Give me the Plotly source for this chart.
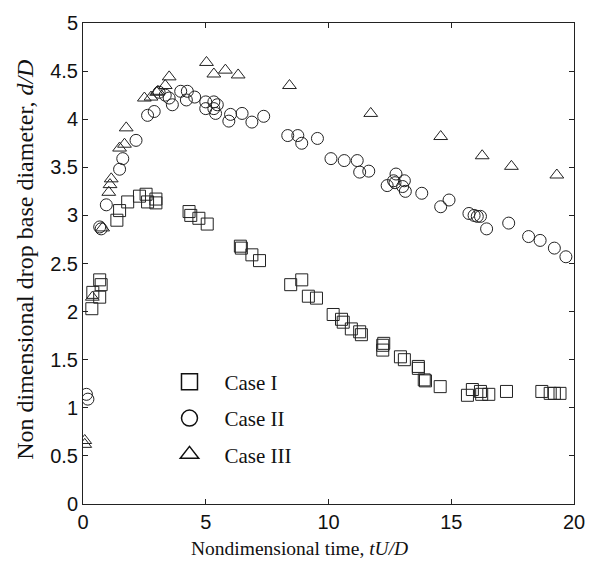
import plotly.graph_objects as go

# Case I (squares)
case1_x = [0.36, 0.40, 0.68, 0.68, 0.74, 1.38, 1.49, 1.82, 2.30, 2.57, 2.63, 2.97, 2.97,
           4.32, 4.39, 4.72, 5.06, 6.41, 6.45, 6.88, 7.19, 8.46, 8.91, 9.18, 9.51,
           10.19, 10.53, 10.60, 10.93, 11.27, 11.34, 12.21, 12.25, 12.21, 12.93, 13.09,
           13.66, 13.66, 13.90, 13.95, 14.55, 15.66, 15.86, 16.19, 16.24, 16.53, 17.25,
           18.69, 19.03, 19.20, 19.43]
case1_y = [2.03, 2.20, 2.15, 2.33, 2.28, 2.95, 3.05, 3.14, 3.20, 3.22, 3.14, 3.17, 3.13,
           3.04, 3.00, 2.97, 2.91, 2.68, 2.66, 2.59, 2.53, 2.28, 2.33, 2.16, 2.14,
           1.97, 1.92, 1.89, 1.82, 1.79, 1.76, 1.65, 1.67, 1.60, 1.53, 1.50,
           1.43, 1.41, 1.29, 1.28, 1.22, 1.13, 1.19, 1.17, 1.14, 1.14, 1.17,
           1.17, 1.15, 1.15, 1.15]

# Case II (circles)
case2_x = [0.14, 0.20, 0.68, 0.74, 0.95, 1.49, 1.62, 2.16, 2.63, 2.90, 3.10, 3.35, 3.51,
           3.64, 3.98, 4.25, 4.21, 4.55, 5.00, 5.00, 5.33, 5.33, 5.47, 5.40, 6.01, 5.94,
           6.48, 6.88, 7.36, 8.34, 8.75, 8.91, 9.55, 10.10, 10.64, 11.17, 11.27, 11.64,
           12.39, 12.65, 12.71, 12.75, 13.09, 13.02, 13.13, 13.80, 14.57, 14.91, 15.72,
           15.93, 16.06, 16.19, 16.44, 17.34, 18.15, 18.62, 19.20, 19.67]
case2_y = [1.14, 1.09, 2.88, 2.86, 3.11, 3.48, 3.59, 3.78, 4.04, 4.08, 4.28, 4.25, 4.22,
           4.15, 4.29, 4.29, 4.20, 4.23, 4.18, 4.11, 4.18, 4.11, 4.15, 4.06, 4.05, 3.98,
           4.06, 3.97, 4.03, 3.83, 3.83, 3.75, 3.80, 3.59, 3.57, 3.57, 3.45, 3.46,
           3.31, 3.36, 3.34, 3.43, 3.36, 3.30, 3.25, 3.23, 3.09, 3.16, 3.02,
           3.00, 2.99, 2.99, 2.86, 2.92, 2.78, 2.74, 2.66, 2.57]

# Case III (triangles)
case3_x = [0.07, 0.07, 0.38, 0.80, 1.05, 1.10, 1.15, 1.49, 1.69, 1.76, 2.50, 2.77, 3.00,
           3.05, 3.35, 3.51, 5.03, 5.33, 5.80, 6.32, 8.41, 11.72, 14.57, 16.26, 17.45, 19.30]
case3_y = [0.66, 0.62, 2.15, 2.87, 3.24, 3.32, 3.38, 3.70, 3.74, 3.91, 4.22, 4.23, 4.28,
           4.29, 4.35, 4.44, 4.59, 4.47, 4.51, 4.46, 4.35, 4.06, 3.82, 3.62, 3.51, 3.42]

x_ticks = [0, 5, 10, 15, 20]
y_ticks = [0, 0.5, 1, 1.5, 2, 2.5, 3, 3.5, 4, 4.5, 5]

x_title = "Nondimensional time, <i>tU/D</i>"
y_title = "Non dimensional drop base diameter, <i>d/D</i>"

series = [
    ("Case I", case1_x, case1_y, "square-open"),
    ("Case II", case2_x, case2_y, "circle-open"),
    ("Case III", case3_x, case3_y, "triangle-up-open"),
]

mcol = "#222222"
fig = go.Figure()
for name, xs, ys, sym in series:
    fig.add_trace(go.Scatter(
        x=xs, y=ys, mode="markers", name=name, showlegend=False,
        marker=dict(symbol=sym, size=12, color=mcol, line=dict(width=1, color=mcol)),
    ))
# legend-only entries (larger symbols, as in the original legend box)
for name, xs, ys, sym in series:
    fig.add_trace(go.Scatter(
        x=[None], y=[None], mode="markers", name=name, legendgroup=name,
        marker=dict(symbol=sym, size=16, color="#111111", line=dict(width=1.5, color="#111111")),
    ))

serif = "Liberation Serif, Times New Roman, serif"
sans = "Liberation Sans, Arial, sans-serif"

axis_common = dict(
    showline=True, linecolor="#222222", linewidth=1, mirror="ticks",
    ticks="inside", ticklen=5, tickcolor="#222222", showgrid=False, zeroline=False,
    tickfont=dict(family=sans, size=20, color="#111111"),
)

fig.update_layout(
    width=597, height=563,
    margin=dict(l=83, r=20, t=16, b=59),
    paper_bgcolor="white", plot_bgcolor="white",
    showlegend=True,
    legend=dict(
        x=0.1456, y=0.296, xanchor="left", yanchor="top",
        bgcolor="rgba(0,0,0,0)", borderwidth=0,
        font=dict(family=serif, size=21, color="#111111"),
        tracegroupgap=6, itemsizing="trace", itemwidth=60,
    ),
    xaxis=dict(range=[0, 20], tickvals=x_ticks, ticktext=[str(v) for v in x_ticks],
               **axis_common),
    yaxis=dict(range=[0, 5], tickvals=y_ticks, ticktext=[f"{v:g}" for v in y_ticks],
               **axis_common),
    annotations=[
        dict(text=x_title, xref="paper", yref="paper", x=(301 - 83) / 493.5, y=-(549 - 504) / 488,
             xanchor="center", yanchor="middle", showarrow=False,
             font=dict(family=serif, size=19.5, color="#111111")),
        dict(text=y_title, xref="paper", yref="paper", x=-(83 - 24) / 493.5, y=(504 - 256) / 488,
             xanchor="center", yanchor="middle", showarrow=False, textangle=-90,
             font=dict(family=serif, size=24, color="#111111")),
    ],
)

fig.write_html("out.html")
